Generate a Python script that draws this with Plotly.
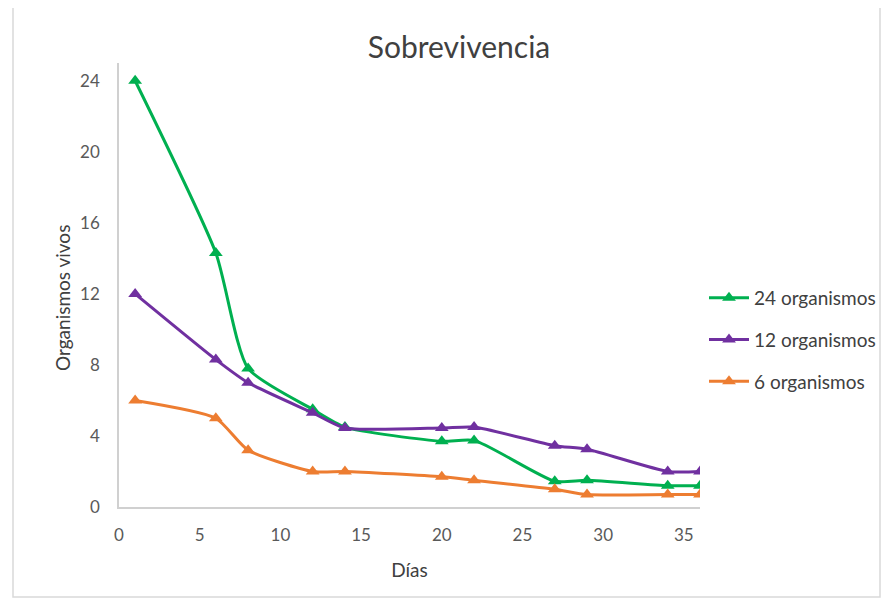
import plotly.graph_objects as go

dias = [1, 6, 8, 12, 14, 20, 22, 27, 29, 34, 36]
org24 = [24, 14.3, 7.8, 5.5, 4.5, 3.7, 3.75, 1.45, 1.5, 1.2, 1.2]
org12 = [12, 8.3, 7.0, 5.3, 4.45, 4.45, 4.5, 3.45, 3.25, 2.0, 2.0]
org6 = [6, 5.0, 3.2, 2.0, 2.0, 1.7, 1.5, 1.0, 0.7, 0.7, 0.7]

series = [
    ("24 organismos", org24, "#00B050"),
    ("12 organismos", org12, "#7030A0"),
    ("6 organismos", org6, "#ED7D31"),
]

FONT = "Lato"
fig = go.Figure()
for i, (name, vals, col) in enumerate(series):
    fig.add_trace(go.Scatter(
        x=dias, y=vals, name=name, mode="lines+markers",
        line=dict(color=col, width=3, shape="spline", smoothing=0.6),
        marker=dict(symbol="triangle-up", size=12, color=col),
        legendgroup=f"g{i}",
    ))

# page body has an 8px margin; work in reference pixel coords minus offset
O = 8
W, H = 890 - 2 * O, 607 - 2 * O
L, T = 119 - O, 63 - O
BOT = 507 - O          # y pixel of x axis
RIGHT = 700 - O        # x pixel of right edge of plot
B = H - BOT
R = W - RIGHT
pw = W - L - R
ph = H - T - B

def px(x):
    return (x - O - L) / pw

def py(y):
    return (BOT - (y - O)) / ph

fig.update_layout(
    width=W, height=H,
    margin=dict(l=L, r=R, t=T, b=B, autoexpand=False),
    paper_bgcolor="white", plot_bgcolor="white",
    font=dict(family=FONT, color="#595959", size=16),
    title=dict(text="Sobrevivencia", x=(459 - O) / W, xref="container", xanchor="center",
               y=1 - (47 - O) / H, yref="container", yanchor="middle",
               font=dict(size=30, color="#404040", family=FONT)),
    xaxis=dict(range=[0, 36], tickvals=[0, 5, 10, 15, 20, 25, 30, 35], showgrid=False,
               zeroline=False, showline=True, linecolor="#d0d0d0", linewidth=1.5,
               automargin=False,
               ticks="", ticklabelstandoff=12, tickfont=dict(size=17, color="#595959"),
               title=dict(text="Días", font=dict(size=19, color="#404040"), standoff=20)),
    yaxis=dict(range=[0, 25], tickvals=[0, 4, 8, 12, 16, 20, 24], showgrid=False,
               zeroline=False, showline=True, linecolor="#d0d0d0", linewidth=1.5,
               automargin=False,
               ticks="", ticklabelstandoff=14, tickfont=dict(size=17, color="#595959")),
    legend=dict(xref="container", yref="container",
                x=(704 - O) / W, xanchor="left", y=(H - (340 - O)) / H, yanchor="middle",
                font=dict(size=19, color="#404040"), tracegroupgap=14,
                bgcolor="rgba(0,0,0,0)", itemwidth=40),
    showlegend=True,
)

fig.add_annotation(text="Organismos vivos", xref="paper", yref="paper",
                   x=px(62), y=py(298), textangle=-90,
                   showarrow=False, xanchor="center", yanchor="middle",
                   font=dict(size=19, color="#404040", family=FONT))

fig.add_shape(type="rect", xref="paper", yref="paper",
              x0=px(13), x1=px(880),
              y0=py(597), y1=py(7),
              line=dict(color="#d9d9d9", width=1.5), fillcolor="rgba(0,0,0,0)", layer="below")

fig.write_html("out.html")
